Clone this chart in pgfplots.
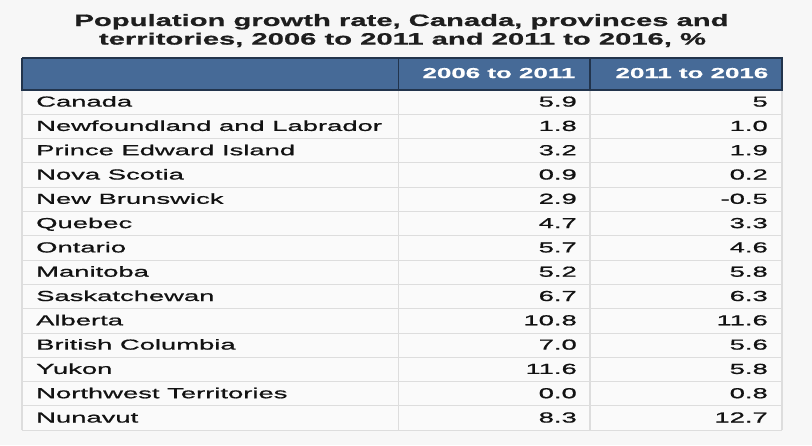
\documentclass[border=0pt]{standalone}
\usepackage{pgfplots}
\usepackage{pgfplotstable}
\pgfplotsset{compat=1.18}
\usepackage{fontspec}
\setmainfont{Liberation Sans}[FakeStretch=1.89, FakeBold=0.9]
\newfontfamily\titlefont{Liberation Sans}[FakeStretch=1.77, FakeBold=0.8]
\newfontfamily\headfont{Liberation Sans}[FakeStretch=1.8, FakeBold=0.6]
\definecolor{bg}{HTML}{F7F7F7}
\definecolor{tbl}{HTML}{FAFAFA}
\definecolor{hdr}{HTML}{466A97}
\definecolor{hdrline}{HTML}{22344C}
\definecolor{gridc}{HTML}{DDDDDD}
\definecolor{txt}{HTML}{121212}
\definecolor{ttl}{HTML}{1E1E1E}

\pgfplotstableread[col sep=comma]{
r,name,a,b
0,Canada,5.9,5
1,Newfoundland and Labrador,1.8,1.0
2,Prince Edward Island,3.2,1.9
3,Nova Scotia,0.9,0.2
4,New Brunswick,2.9,-0.5
5,Quebec,4.7,3.3
6,Ontario,5.7,4.6
7,Manitoba,5.2,5.8
8,Saskatchewan,6.7,6.3
9,Alberta,10.8,11.6
10,British Columbia,7.0,5.6
11,Yukon,11.6,5.8
12,Northwest Territories,0.0,0.8
13,Nunavut,8.3,12.7
}\rows

\begin{document}
\begin{tikzpicture}
\begin{axis}[
  width=812pt, height=445pt, scale only axis,
  xmin=0, xmax=812, ymin=0, ymax=445, y dir=reverse,
  hide axis, clip=false, enlargelimits=false,
]
% background
\addplot[fill=bg, draw=none] coordinates {(0,0) (812,0) (812,445) (0,445)};
% table body
\addplot[fill=tbl, draw=none] coordinates {(22,90) (782,90) (782,430.2) (22,430.2)};
% horizontal grid lines
\addplot[gridc, line width=0.9pt, unbounded coords=jump] coordinates {
(22,114.3) (782,114.3) (0,nan)
(22,138.6) (782,138.6) (0,nan)
(22,162.9) (782,162.9) (0,nan)
(22,187.2) (782,187.2) (0,nan)
(22,211.5) (782,211.5) (0,nan)
(22,235.8) (782,235.8) (0,nan)
(22,260.1) (782,260.1) (0,nan)
(22,284.4) (782,284.4) (0,nan)
(22,308.7) (782,308.7) (0,nan)
(22,333.0) (782,333.0) (0,nan)
(22,357.3) (782,357.3) (0,nan)
(22,381.6) (782,381.6) (0,nan)
(22,405.9) (782,405.9) (0,nan)
(22,430.2) (782,430.2)
};
% vertical grid lines in body
\addplot[gridc, line width=1.2pt, unbounded coords=jump] coordinates {
(22,90) (22,430.2) (0,nan)
(398.5,90) (398.5,430.2) (0,nan)
(590,90) (590,430.2) (0,nan)
(782,90) (782,430.2)
};
% header
\addplot[fill=hdr, draw=none] coordinates {(22,58) (782,58) (782,90) (22,90)};
\addplot[hdrline, line width=1.2pt, unbounded coords=jump] coordinates {
(22,58) (782,58) (782,90) (22,90) (22,58) (0,nan)
(398.5,58) (398.5,90) (0,nan)
(590,58) (590,90)
};
% header labels
\addplot[draw=none, point meta=explicit symbolic, nodes near coords,
  every node near coord/.style={anchor=base east, inner sep=0pt, text=white,
  font=\headfont\bfseries\fontsize{14.4}{16}\selectfont}]
  coordinates {(575.5,78) [2006 to 2011] (768.5,78) [2011 to 2016]};
% title
\addplot[draw=none, point meta=explicit symbolic, nodes near coords,
  every node near coord/.style={anchor=base, inner sep=0pt, text=ttl,
  font=\titlefont\bfseries\fontsize{16.5}{18}\selectfont}]
  coordinates {(401.5,26) [Population growth rate, Canada, provinces and]
               (402.5,44.6) [territories, 2006 to 2011 and 2011 to 2016, \%]};
% row names
\addplot[draw=none, point meta=explicit symbolic, nodes near coords,
  every node near coord/.style={anchor=base west, inner sep=0pt, text=txt,
  font=\fontsize{14.5}{16}\selectfont}]
  table[x expr=36, y expr=106.6+24.3*\thisrow{r}, meta=name] {\rows};
% 2006 to 2011
\addplot[draw=none, point meta=explicit symbolic, nodes near coords,
  every node near coord/.style={anchor=base east, inner sep=0pt, text=txt,
  font=\fontsize{14.5}{16}\selectfont}]
  table[x expr=577, y expr=106.6+24.3*\thisrow{r}, meta=a] {\rows};
% 2011 to 2016
\addplot[draw=none, point meta=explicit symbolic, nodes near coords,
  every node near coord/.style={anchor=base east, inner sep=0pt, text=txt,
  font=\fontsize{14.5}{16}\selectfont}]
  table[x expr=768, y expr=106.6+24.3*\thisrow{r}, meta=b] {\rows};
\end{axis}
\end{tikzpicture}
\end{document}
